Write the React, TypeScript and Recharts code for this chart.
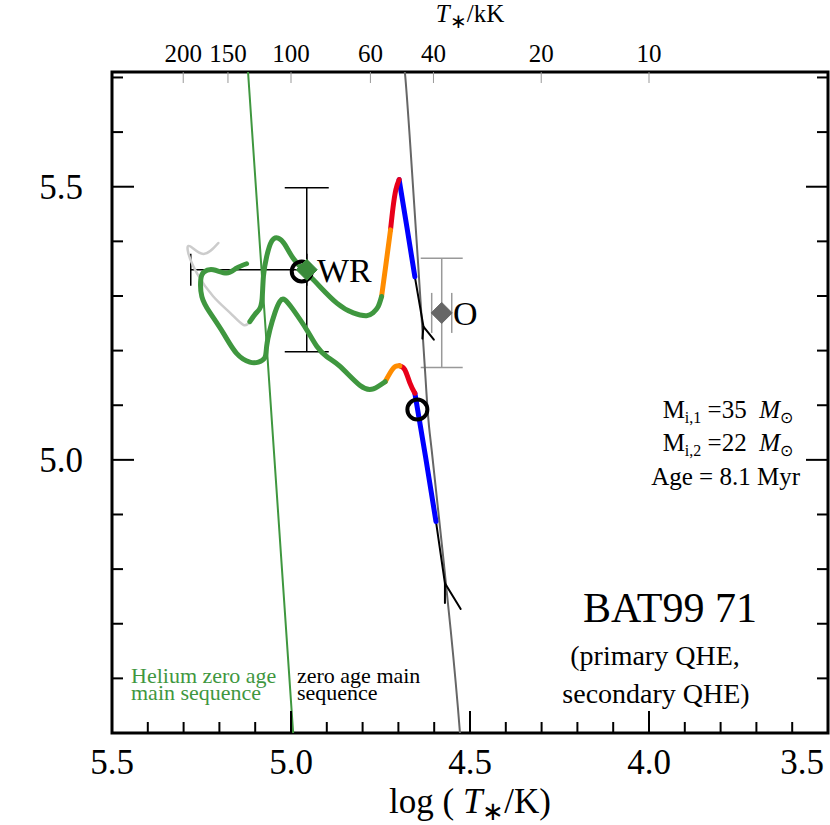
import React from 'react';
import { ComposedChart, Line, Scatter, XAxis, YAxis, ErrorBar, ReferenceArea } from 'recharts';

const SERIF = '"Liberation Serif", "Times New Roman", serif';
const GREEN = '#3f973f';
const NB = '\u00a0';

// axis ticks (log T on the bottom, log L on the sides, T in kK on top)
const xTicks = [3.5, 3.6, 3.7, 3.8, 3.9, 4.0, 4.1, 4.2, 4.3, 4.4, 4.5, 4.6, 4.7, 4.8, 4.9, 5.0, 5.1, 5.2, 5.3, 5.4, 5.5];
const yTicks = [4.6, 4.7, 4.8, 4.9, 5.0, 5.1, 5.2, 5.3, 5.4, 5.5, 5.6, 5.7];
const topKK = [200, 150, 100, 60, 40, 20, 10];

// reference lines
const heZams = [{ x: 5.12, y: 5.71 }, { x: 4.994, y: 4.5 }];
const zams = [
  { x: 4.682, y: 5.71 }, { x: 4.666, y: 5.568 }, { x: 4.624, y: 5.147 },
  { x: 4.607, y: 5.018 }, { x: 4.554, y: 4.689 }, { x: 4.528, y: 4.5 },
];

// primary track
const priHook = [{ x: 4.601, y: 5.22 }, { x: 4.63, y: 5.244 }, { x: 4.633, y: 5.222 }];
const priBlack = [{ x: 4.63, y: 5.244 }, { x: 4.654, y: 5.335 }];
const priBlue = [{ x: 4.654, y: 5.335 }, { x: 4.676, y: 5.425 }, { x: 4.698, y: 5.513 }];
const priRed = [{ x: 4.698, y: 5.513 }, { x: 4.707, y: 5.495 }, { x: 4.715, y: 5.462 }, { x: 4.722, y: 5.421 }];
const priOrange = [{ x: 4.722, y: 5.421 }, { x: 4.735, y: 5.357 }, { x: 4.747, y: 5.299 }];
const priGreen = [
  { x: 4.747, y: 5.299 }, { x: 4.757, y: 5.28 }, { x: 4.771, y: 5.269 }, { x: 4.789, y: 5.264 },
  { x: 4.826, y: 5.269 }, { x: 4.872, y: 5.287 }, { x: 4.919, y: 5.317 }, { x: 4.947, y: 5.336 },
  { x: 4.966, y: 5.348 }, { x: 4.994, y: 5.369 }, { x: 5.017, y: 5.394 }, { x: 5.036, y: 5.406 },
  { x: 5.054, y: 5.4 }, { x: 5.068, y: 5.372 }, { x: 5.077, y: 5.336 }, { x: 5.081, y: 5.293 },
  { x: 5.089, y: 5.275 }, { x: 5.101, y: 5.266 }, { x: 5.115, y: 5.253 },
];
const priGray = [
  { x: 5.115, y: 5.253 }, { x: 5.133, y: 5.247 }, { x: 5.17, y: 5.269 }, { x: 5.217, y: 5.299 },
  { x: 5.263, y: 5.342 }, { x: 5.287, y: 5.379 }, { x: 5.282, y: 5.391 }, { x: 5.245, y: 5.377 },
  { x: 5.203, y: 5.397 },
];

// secondary track
const secHook = [{ x: 4.526, y: 4.727 }, { x: 4.57, y: 4.774 }, { x: 4.57, y: 4.738 }];
const secBlack = [{ x: 4.57, y: 4.774 }, { x: 4.595, y: 4.887 }];
const secBlue = [{ x: 4.595, y: 4.887 }, { x: 4.624, y: 5.005 }, { x: 4.654, y: 5.122 }];
const secRed = [{ x: 4.654, y: 5.122 }, { x: 4.668, y: 5.141 }, { x: 4.682, y: 5.165 }, { x: 4.696, y: 5.172 }];
const secOrange = [{ x: 4.696, y: 5.172 }, { x: 4.714, y: 5.168 }, { x: 4.737, y: 5.143 }];
const secGreen = [
  { x: 4.737, y: 5.143 }, { x: 4.77, y: 5.13 }, { x: 4.807, y: 5.136 }, { x: 4.863, y: 5.171 },
  { x: 4.9, y: 5.189 }, { x: 4.928, y: 5.208 }, { x: 4.956, y: 5.238 }, { x: 4.994, y: 5.275 },
  { x: 5.017, y: 5.293 }, { x: 5.031, y: 5.29 }, { x: 5.045, y: 5.269 }, { x: 5.059, y: 5.238 },
  { x: 5.068, y: 5.208 }, { x: 5.073, y: 5.187 }, { x: 5.091, y: 5.179 }, { x: 5.115, y: 5.179 },
  { x: 5.152, y: 5.195 }, { x: 5.189, y: 5.232 }, { x: 5.226, y: 5.269 }, { x: 5.249, y: 5.299 },
  { x: 5.252, y: 5.33 }, { x: 5.243, y: 5.344 }, { x: 5.217, y: 5.348 }, { x: 5.18, y: 5.342 },
  { x: 5.152, y: 5.351 }, { x: 5.124, y: 5.359 },
];

// observed stars and model positions
const wrStar = [{ x: 4.956, y: 5.348, ex: [0, 0.324], ey: 0.15 }];
const oStar = [{ x: 4.579, y: 5.269, ex: 0.028, ey: 0.1 }];
const modelPos = [{ x: 4.97, y: 5.345 }, { x: 4.647, y: 5.092 }];

const isMajor = (v: number) => Math.abs(v * 2 - Math.round(v * 2)) < 1e-6;

const BottomTick = (p: any) => {
  const v = p.payload.value;
  const maj = isMajor(v);
  const last = Math.abs(v - 3.5) < 1e-6;
  return (
    <g>
      <line x1={p.x} x2={p.x} y1={p.y} y2={p.y - (maj ? 22 : 11)} stroke="#000" strokeWidth={2} />
      {maj && (
        <text x={last ? p.x - 4 : p.x} y={p.y + 41} textAnchor={last ? 'end' : 'middle'} fontSize={35}
          fontFamily={SERIF} fill="#000">
          {v.toFixed(1)}
        </text>
      )}
    </g>
  );
};

const TopTick = (p: any) => {
  const kk = Math.round(Math.pow(10, p.payload.value) / 1000);
  return (
    <g>
      <line x1={p.x} x2={p.x} y1={p.y} y2={p.y + 11} stroke="#999" strokeWidth={1} />
      <text x={p.x} y={p.y - 10} textAnchor="middle" fontSize={25} fontFamily={SERIF} fill="#000">
        {kk}
      </text>
    </g>
  );
};

const LeftTick = (p: any) => {
  const v = p.payload.value;
  const maj = isMajor(v);
  return (
    <g>
      <line x1={p.x} x2={p.x + (maj ? 22 : 11)} y1={p.y} y2={p.y} stroke="#000" strokeWidth={2} />
      {maj && (
        <text x={p.x - 29} y={p.y + 12} textAnchor="end" fontSize={35} fontFamily={SERIF} fill="#000">
          {v.toFixed(1)}
        </text>
      )}
    </g>
  );
};

const RightTick = (p: any) => {
  const maj = isMajor(p.payload.value);
  return <line x1={p.x} x2={p.x - (maj ? 22 : 11)} y1={p.y} y2={p.y} stroke="#000" strokeWidth={2} />;
};

const diamond = (fill: string) => (p: any) => (
  <polygon
    points={`${p.cx},${p.cy - 10.5} ${p.cx + 10.5},${p.cy} ${p.cx},${p.cy + 10.5} ${p.cx - 10.5},${p.cy}`}
    fill={fill}
    stroke={fill}
  />
);

const ring = (p: any) => <circle cx={p.cx} cy={p.cy} r={10} fill="none" stroke="#000" strokeWidth={4} />;

const track = (data: any[], color: string, width: number, key: string, type: any = 'natural', ax: any = {}) => (
  <Line
    key={key}
    data={data}
    dataKey="y"
    type={type}
    stroke={color}
    strokeWidth={width}
    dot={false}
    activeDot={false}
    isAnimationActive={false}
    strokeLinecap="round"
    strokeLinejoin="round"
    {...ax}
  />
);

export default function App() {
  return (
    <div style={{ position: 'absolute', left: 0, top: 0, width: 830, height: 825, background: '#fff', fontFamily: SERIF }}>
      <ComposedChart width={830} height={825} margin={{ top: 32, right: 0, bottom: 32, left: 52 }}>
        <XAxis dataKey="x" type="number" domain={[3.5, 5.5]} reversed allowDataOverflow ticks={xTicks}
          interval={0} tick={BottomTick} tickLine={false} axisLine={false} tickSize={0} tickMargin={0} height={60} />
        <XAxis xAxisId="t" dataKey="x" orientation="top" type="number" domain={[3.5, 5.5]} reversed allowDataOverflow
          ticks={topKK.map((t) => Math.log10(t * 1000))} interval={0} tick={TopTick} tickLine={false}
          axisLine={false} tickSize={0} tickMargin={0} height={40} />
        <YAxis dataKey="y" type="number" domain={[4.5, 5.71]} allowDataOverflow ticks={yTicks} interval={0}
          tick={LeftTick} tickLine={false} axisLine={false} tickSize={0} tickMargin={0} width={60} />
        <YAxis yAxisId="r" dataKey="y" orientation="right" type="number" domain={[4.5, 5.71]} allowDataOverflow
          ticks={yTicks} interval={0} tick={RightTick} tickLine={false} axisLine={false} tickSize={0}
          tickMargin={0} width={2} />

        <Scatter data={wrStar} shape={() => <g />} isAnimationActive={false}>
          <ErrorBar dataKey="ey" direction="y" width={22} stroke="#000" strokeWidth={1.5} />
          <ErrorBar dataKey="ex" direction="x" width={16} stroke="#000" strokeWidth={1.5} />
        </Scatter>
        <Scatter data={oStar} shape={() => <g />} isAnimationActive={false}>
          <ErrorBar dataKey="ey" direction="y" width={21} stroke="#999" strokeWidth={1.5} />
          <ErrorBar dataKey="ex" direction="x" width={20} stroke="#999" strokeWidth={1.5} />
        </Scatter>

        {track(heZams, GREEN, 2, 'hezams', 'linear', { xAxisId: 't' })}
        {track(zams, '#666', 2, 'zams', 'natural', { yAxisId: 'r' })}

        {track(priGray, '#cccccc', 2.5, 'pg')}
        {track(priHook, '#000', 2, 'ph', 'linear')}
        {track(priBlack, '#000', 2, 'pk', 'linear')}
        {track(priBlue, '#0000ff', 5, 'pb')}
        {track(priRed, '#e8001a', 5, 'pr')}
        {track(priOrange, '#ff8c00', 5, 'po')}
        {track(priGreen, GREEN, 5, 'pgr')}

        {track(secHook, '#000', 2, 'sh', 'linear')}
        {track(secBlack, '#000', 2, 'sk', 'linear')}
        {track(secBlue, '#0000ff', 5, 'sb')}
        {track(secRed, '#e8001a', 5, 'sr')}
        {track(secOrange, '#ff8c00', 5, 'so')}
        {track(secGreen, GREEN, 5, 'sgr')}

        <Scatter data={modelPos} shape={ring} isAnimationActive={false} />
        <Scatter data={wrStar} shape={diamond('#3a8a3a')} isAnimationActive={false} />
        <Scatter data={oStar} shape={diamond('#666')} isAnimationActive={false} />

        <ReferenceArea x1={5.5} x2={3.5} y1={4.5} y2={5.71} fill="none" stroke="#000" strokeWidth={3} />

        <text x={317} y={282} fontSize={34} fontFamily={SERIF} fill="#000">WR</text>
        <text x={453} y={325} fontSize={34} fontFamily={SERIF} fill="#000">O</text>

        <text x={470} y={22} textAnchor="middle" fontSize={25} fontFamily={SERIF} fill="#000">
          <tspan fontStyle="italic">T</tspan><tspan dy={6} fontSize={20}>∗</tspan><tspan dy={-6}>/kK</tspan>
        </text>
        <text x={470} y={813} textAnchor="middle" fontSize={35} fontFamily={SERIF} fill="#000">
          log ({NB}<tspan fontStyle="italic">T</tspan><tspan dy={7} fontSize={26}>∗</tspan><tspan dy={-7}>/K)</tspan>
        </text>

        <text x={793} y={418} textAnchor="end" fontSize={25} fontFamily={SERIF} fill="#000">
          M<tspan dy={5} fontSize={16}>i,1</tspan><tspan dy={-5}>{` =35${NB}${NB}`}</tspan>
          <tspan fontStyle="italic">M</tspan><tspan dy={5} fontSize={16}>⊙</tspan>
        </text>
        <text x={793} y={451} textAnchor="end" fontSize={25} fontFamily={SERIF} fill="#000">
          M<tspan dy={5} fontSize={16}>i,2</tspan><tspan dy={-5}>{` =22${NB}${NB}`}</tspan>
          <tspan fontStyle="italic">M</tspan><tspan dy={5} fontSize={16}>⊙</tspan>
        </text>
        <text x={800} y={485} textAnchor="end" fontSize={25} fontFamily={SERIF} fill="#000">Age = 8.1 Myr</text>

        <text x={670} y={622} textAnchor="middle" fontSize={42} fontFamily={SERIF} fill="#000">BAT99 71</text>
        <text textAnchor="middle" fontSize={28} fontFamily={SERIF} fill="#000">
          <tspan x={655} y={665}>(primary QHE,</tspan>
          <tspan x={656} y={703}>secondary QHE)</tspan>
        </text>

        <text fontSize={22} fontFamily={SERIF} fill={GREEN}>
          <tspan x={131} y={683}>Helium zero age</tspan>
          <tspan x={131} y={700}>main sequence</tspan>
        </text>
        <text fontSize={22} fontFamily={SERIF} fill="#000">
          <tspan x={297} y={683}>zero age main</tspan>
          <tspan x={297} y={700}>sequence</tspan>
        </text>
      </ComposedChart>
    </div>
  );
}
